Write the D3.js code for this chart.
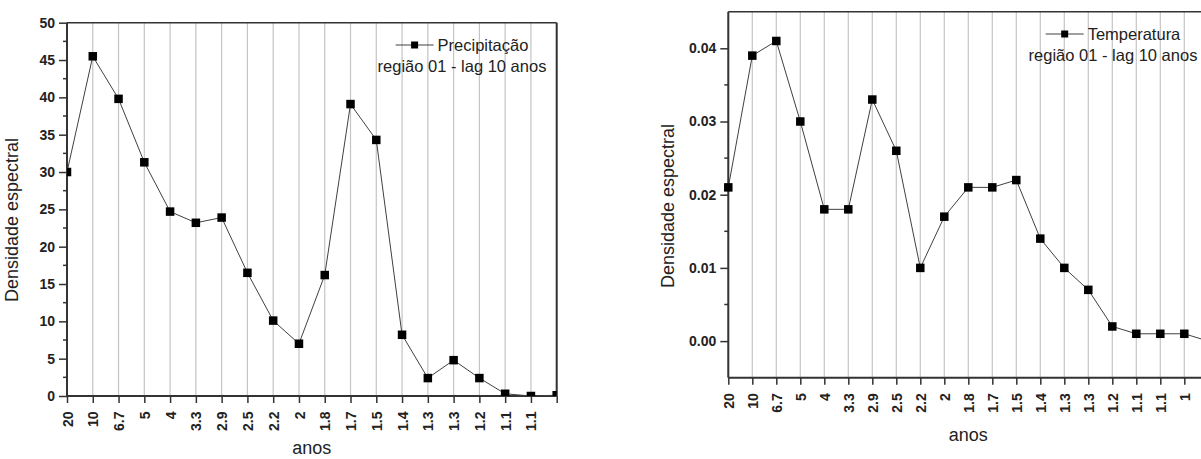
<!DOCTYPE html>
<html>
<head>
<meta charset="utf-8">
<script src="https://cdn.jsdelivr.net/npm/d3@7"></script>
<style>
  html, body { margin: 0; padding: 0; background: #fff; }
  svg { display: block; }
  text { font-family: "Liberation Sans", Arial, sans-serif; }
</style>
</head>
<body>
<svg id="chart" width="1201" height="459"></svg>
<script>
// Period labels (anos) for each spectral estimate
const precipLabels = ["20", "10", "6.7", "5", "4", "3.3", "2.9", "2.5", "2.2", "2", "1.8", "1.7", "1.5", "1.4", "1.3", "1.3", "1.2", "1.1", "1.1", ""];
const tempLabels = ["20", "10", "6.7", "5", "4", "3.3", "2.9", "2.5", "2.2", "2", "1.8", "1.7", "1.5", "1.4", "1.3", "1.3", "1.2", "1.1", "1.1", "1", ""];

// Spectral density, região 01, lag 10 anos
const precipValues = [30.0, 45.5, 39.8, 31.3, 24.7, 23.2, 23.9, 16.5, 10.1, 7.0, 16.2, 39.1, 34.3, 8.2, 2.4, 4.8, 2.4, 0.3, 0.0, 0.1];
const tempValues = [0.021, 0.039, 0.041, 0.030, 0.018, 0.018, 0.033, 0.026, 0.010, 0.017, 0.021, 0.021, 0.022, 0.014, 0.010, 0.007, 0.002, 0.001, 0.001, 0.001, 0.000];

// Y tick values
const precipTicks = [0, 5, 10, 15, 20, 25, 30, 35, 40, 45, 50];
const tempTicks = [0.00, 0.01, 0.02, 0.03, 0.04];

const svg = d3.select("#chart");

function drawPanel(cfg) {
  const g = svg.append("g");
  const n = cfg.values.length;
  const x = d3.scalePoint().domain(d3.range(n)).range([cfg.x0, cfg.x1]);
  const y = d3.scaleLinear().domain(cfg.yDomain).range([cfg.yBot, cfg.yTop]);

  // vertical grid lines at each period
  g.append("g").selectAll("line").data(d3.range(n)).join("line")
    .attr("x1", d => x(d)).attr("x2", d => x(d))
    .attr("y1", cfg.yBot).attr("y2", cfg.yTop)
    .attr("stroke", "#c4c4c4").attr("stroke-width", 1.2);

  // frame top/right
  g.append("line").attr("x1", cfg.x0).attr("x2", cfg.x1)
    .attr("y1", cfg.yTop).attr("y2", cfg.yTop)
    .attr("stroke", "#333").attr("stroke-width", 1.5);
  g.append("line").attr("x1", cfg.x1).attr("x2", cfg.x1)
    .attr("y1", cfg.yTop).attr("y2", cfg.yBot)
    .attr("stroke", "#333").attr("stroke-width", 2);

  // Y axis with major + minor ticks
  const yAxis = d3.axisLeft(y).tickValues(cfg.yTicks).tickFormat(cfg.yFormat)
    .tickSize(8).tickPadding(4);
  const ya = g.append("g").attr("transform", `translate(${cfg.x0},0)`).call(yAxis);
  ya.select(".domain").attr("stroke", "#333").attr("stroke-width", 2)
    .attr("d", `M0,${cfg.yTop}V${cfg.yBot}`);
  ya.selectAll(".tick line").attr("stroke", "#333").attr("stroke-width", 1.5);
  ya.selectAll(".tick text")
    .attr("font-family", "Liberation Sans, Arial, sans-serif")
    .attr("font-size", 14).attr("font-weight", "bold").attr("fill", "#222");
  g.append("g").attr("transform", `translate(${cfg.x0},0)`)
    .selectAll("line").data(cfg.minorTicks).join("line")
    .attr("x1", -4).attr("x2", 0)
    .attr("y1", d => y(d)).attr("y2", d => y(d))
    .attr("stroke", "#333").attr("stroke-width", 1.5);

  // X axis: categorical periods, rotated labels
  const xAxis = d3.axisBottom(x).tickFormat(i => cfg.labels[i]).tickSize(7).tickPadding(0);
  const xa = g.append("g").attr("transform", `translate(0,${cfg.yBot})`).call(xAxis);
  xa.select(".domain").attr("stroke", "#333").attr("stroke-width", 2)
    .attr("d", `M${cfg.x0},0H${cfg.x1}`);
  xa.selectAll(".tick line").attr("stroke", "#333").attr("stroke-width", 1.5);
  xa.selectAll(".tick text")
    .attr("font-family", "Liberation Sans, Arial, sans-serif")
    .attr("font-size", 14).attr("font-weight", "bold").attr("fill", "#222")
    .attr("text-anchor", "end")
    .attr("transform", "rotate(-90)")
    .attr("x", -15.5).attr("y", 0).attr("dy", "0.36em");

  // data line + square markers
  const plot = g.append("g");
  if (cfg.clip) {
    const id = "clip-" + cfg.id;
    svg.append("defs").append("clipPath").attr("id", id).append("rect")
      .attr("x", cfg.x0).attr("y", cfg.yTop)
      .attr("width", cfg.x1 - cfg.x0).attr("height", cfg.yBot - cfg.yTop);
    plot.attr("clip-path", `url(#${id})`);
  }
  const line = d3.line().x((d, i) => x(i)).y(d => y(d));
  plot.append("path").datum(cfg.values).attr("d", line)
    .attr("fill", "none").attr("stroke", "#404040").attr("stroke-width", 1);
  const ms = 8.5;
  plot.selectAll("rect.pt").data(cfg.values).join("rect").attr("class", "pt")
    .attr("x", (d, i) => x(i) - ms / 2).attr("y", d => y(d) - ms / 2)
    .attr("width", ms).attr("height", ms).attr("fill", "#000");

  // axis titles
  g.append("text").attr("transform", `translate(${cfg.yTitleX},${cfg.yTitleY}) rotate(-90)`)
    .attr("text-anchor", "middle").attr("font-size", 18).attr("fill", "#222")
    .text("Densidade espectral");
  g.append("text").attr("x", (cfg.x0 + cfg.x1) / 2).attr("y", cfg.xTitleY)
    .attr("text-anchor", "middle").attr("font-size", 18).attr("fill", "#222")
    .text("anos");

  // legend
  const lg = g.append("g");
  const row1 = lg.append("g");
  const t1 = row1.append("text").attr("x", 0).attr("y", cfg.legendY1)
    .attr("font-size", 16.5).attr("fill", "#222").text(cfg.seriesName);
  const symW = 38, gap = 4;
  const w1 = symW + gap + t1.node().getComputedTextLength();
  const sx = cfg.legendCX - w1 / 2;
  t1.attr("x", sx + symW + gap);
  row1.append("line").attr("x1", sx).attr("x2", sx + symW)
    .attr("y1", cfg.legendY1 - 6).attr("y2", cfg.legendY1 - 6)
    .attr("stroke", "#404040").attr("stroke-width", 1);
  row1.append("rect").attr("x", sx + symW / 2 - 3.5).attr("y", cfg.legendY1 - 9.5)
    .attr("width", 7).attr("height", 7).attr("fill", "#000");
  lg.append("text").attr("x", cfg.legendCX).attr("y", cfg.legendY2)
    .attr("text-anchor", "middle").attr("font-size", 16.5).attr("fill", "#222")
    .text("região 01 - lag 10 anos");
}

drawPanel({
  id: "precip",
  values: precipValues, labels: precipLabels,
  x0: 67, x1: 556.7, yTop: 22.7, yBot: 396,
  yDomain: [0, 50], yTicks: precipTicks,
  minorTicks: d3.range(2.5, 50, 5),
  yFormat: d3.format("d"),
  clip: true,
  yTitleX: 18, yTitleY: 220, xTitleY: 454,
  seriesName: "Precipitação", legendCX: 462, legendY1: 51, legendY2: 72
});

drawPanel({
  id: "temp",
  values: tempValues, labels: tempLabels,
  x0: 728.3, x1: 1208.3, yTop: 11.7, yBot: 377.7,
  yDomain: [-0.005, 0.045], yTicks: tempTicks,
  minorTicks: [0.005, 0.015, 0.025, 0.035],
  yFormat: d3.format(".2f"),
  clip: false,
  yTitleX: 674, yTitleY: 206, xTitleY: 441,
  seriesName: "Temperatura", legendCX: 1113, legendY1: 40, legendY2: 61
});
</script>
</body>
</html>
